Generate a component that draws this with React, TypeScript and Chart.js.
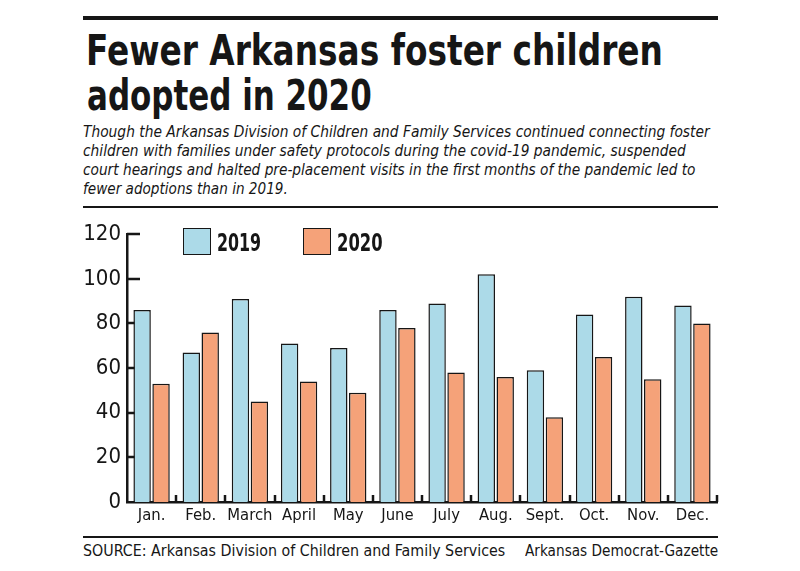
import React, { useEffect, useLayoutEffect, useRef, useState } from "react";
import { Chart, registerables } from "chart.js";

Chart.register(...registerables);

const months = ["Jan.", "Feb.", "March", "April", "May", "June", "July", "Aug.", "Sept.", "Oct.", "Nov.", "Dec."];
const adoptions2019 = [86, 67, 91, 71, 69, 86, 89, 102, 59, 84, 92, 88];
const adoptions2020 = [53, 76, 45, 54, 49, 78, 58, 56, 38, 65, 55, 80];
const yTicks = [0, 20, 40, 60, 80, 100, 120];

const titleLines = ["Fewer Arkansas foster children", "adopted in 2020"];
const subtitleLines = [
  "Though the Arkansas Division of Children and Family Services continued connecting foster",
  "children with families under safety protocols during the covid-19 pandemic, suspended",
  "court hearings and halted pre-placement visits in the first months of the pandemic led to",
  "fewer adoptions than in 2019.",
];
const sourceText = "SOURCE: Arkansas Division of Children and Family Services";
const creditText = "Arkansas Democrat-Gazette";

const BLUE = "#acdae8";
const ORANGE = "#f5a279";
const INK = "#161616";
const NARROW = '"Liberation Sans Narrow", "DejaVu Sans Condensed", "Liberation Sans", sans-serif';

function FitText(props: { text: string; left: number; top: number; width: number; style?: React.CSSProperties }) {
  const ref = useRef<HTMLSpanElement>(null);
  const [sx, setSx] = useState(1);
  useLayoutEffect(() => {
    const el = ref.current;
    if (el) {
      const w = el.offsetWidth;
      if (w > 0) setSx(props.width / w);
    }
  }, [props.text, props.width]);
  return (
    <span
      ref={ref}
      style={{
        position: "absolute",
        left: props.left,
        top: props.top,
        whiteSpace: "nowrap",
        lineHeight: 1,
        transform: `scaleX(${sx})`,
        transformOrigin: "0 0",
        color: INK,
        ...props.style,
      }}
    >
      {props.text}
    </span>
  );
}

const innerTicks = {
  id: "innerTicks",
  beforeDatasetsDraw(chart: any) {
    const { ctx } = chart;
    const x = chart.scales.x;
    const y = chart.scales.y;
    ctx.save();
    ctx.strokeStyle = INK;
    ctx.lineWidth = 2.5;
    ctx.beginPath();
    for (const t of y.ticks) {
      if (t.value === 0) continue;
      const py = Math.round(y.getPixelForValue(t.value));
      ctx.moveTo(x.left, py);
      ctx.lineTo(x.left + 13, py);
    }
    const n = months.length;
    for (let i = 1; i <= n; i++) {
      const px = Math.round(x.left + ((x.right - x.left) * i) / n);
      ctx.moveTo(px, y.bottom);
      ctx.lineTo(px, y.bottom - 7);
    }
    ctx.stroke();
    ctx.restore();
  },
};

function BarChart() {
  const canvasRef = useRef<HTMLCanvasElement>(null);
  useEffect(() => {
    if (!canvasRef.current) return;
    const chart = new Chart(canvasRef.current, {
      type: "bar",
      data: {
        labels: months,
        datasets: [
          {
            label: "2019",
            data: adoptions2019,
            backgroundColor: BLUE,
            borderColor: INK,
            borderWidth: 1.5,
            borderSkipped: "bottom",
            categoryPercentage: 0.77,
            barPercentage: 0.92,
          },
          {
            label: "2020",
            data: adoptions2020,
            backgroundColor: ORANGE,
            borderColor: INK,
            borderWidth: 1.5,
            borderSkipped: "bottom",
            categoryPercentage: 0.77,
            barPercentage: 0.92,
          },
        ],
      },
      options: {
        responsive: true,
        maintainAspectRatio: false,
        animation: false,
        layout: { padding: { left: 0, right: 13, top: 11, bottom: 0 } },
        plugins: { legend: { display: false }, tooltip: { enabled: false } },
        scales: {
          x: {
            grid: { display: false, drawTicks: false },
            border: { display: true, color: INK, width: 2.5 },
            ticks: { color: INK, font: { family: NARROW, size: 16.5 }, padding: 4, maxRotation: 0, autoSkip: false },
            afterFit: (s: any) => {
              s.height = 33;
            },
          },
          y: {
            min: 0,
            max: 120,
            afterBuildTicks: (s: any) => {
              s.ticks = yTicks.map((v) => ({ value: v }));
            },
            grid: { display: false, drawTicks: false },
            border: { display: true, color: INK, width: 2.5 },
            ticks: { color: INK, font: { family: NARROW, size: 22 }, padding: 6 },
            afterFit: (s: any) => {
              s.width = 47;
            },
          },
        },
      },
      plugins: [innerTicks],
    });
    return () => chart.destroy();
  }, []);
  return (
    <div style={{ position: "absolute", left: 80, top: 215, width: 650, height: 320 }}>
      <canvas ref={canvasRef} />
    </div>
  );
}

export default function App() {
  const rule = (top: number, height: number): React.CSSProperties => ({
    position: "absolute",
    left: 83,
    width: 635,
    top,
    height,
    background: INK,
  });
  return (
    <div style={{ position: "fixed", left: 0, top: 0, width: 800, height: 571, background: "#fff", overflow: "hidden" }}>
      <div style={rule(16, 4)} />
      <FitText text={titleLines[0]} left={86} top={29.5} width={577} style={{ fontFamily: NARROW, fontWeight: 700, fontSize: 42 }} />
      <FitText text={titleLines[1]} left={87} top={74.5} width={285} style={{ fontFamily: NARROW, fontWeight: 700, fontSize: 42 }} />
      {subtitleLines.map((line, i) => (
        <FitText
          key={i}
          text={line}
          left={83}
          top={123.5 + i * 19.3}
          width={[627, 603, 612, 205][i]}
          style={{ fontFamily: NARROW, fontStyle: "italic", fontSize: 16 }}
        />
      ))}
      <div style={rule(206, 2)} />
      <BarChart />
      <div style={{ position: "absolute", left: 183, top: 228, width: 28, height: 27, boxSizing: "border-box", border: `1.5px solid ${INK}`, background: BLUE }} />
      <FitText text="2019" left={217} top={231} width={44} style={{ fontFamily: NARROW, fontWeight: 700, fontSize: 24 }} />
      <div style={{ position: "absolute", left: 303, top: 228, width: 28, height: 27, boxSizing: "border-box", border: `1.5px solid ${INK}`, background: ORANGE }} />
      <FitText text="2020" left={337} top={231} width={45.5} style={{ fontFamily: NARROW, fontWeight: 700, fontSize: 24 }} />
      <div style={rule(536, 2)} />
      <FitText text={sourceText} left={83} top={543.6} width={422} style={{ fontFamily: NARROW, fontSize: 15.5 }} />
      <FitText text={creditText} left={525} top={543.6} width={193} style={{ fontFamily: NARROW, fontSize: 15.5 }} />
    </div>
  );
}
